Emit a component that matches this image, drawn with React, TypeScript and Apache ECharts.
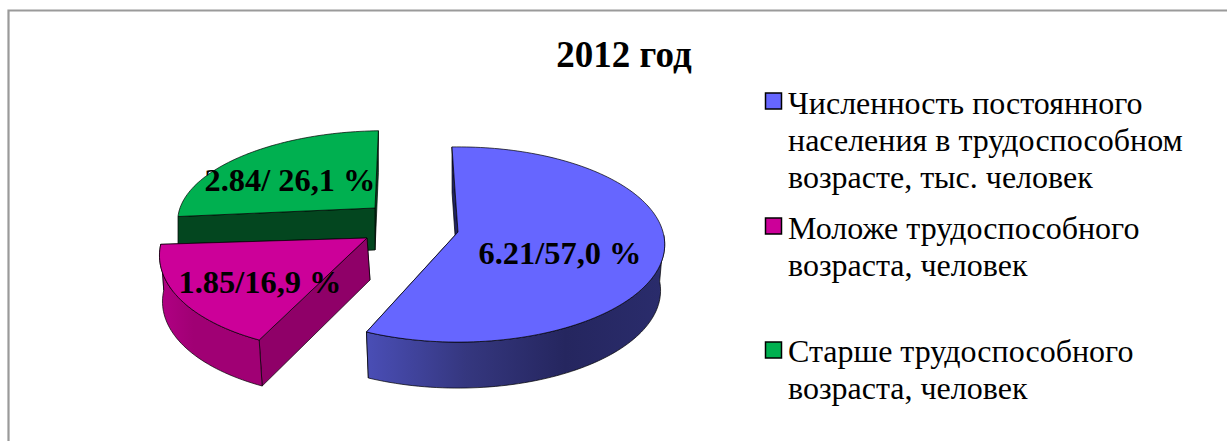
import React, { useEffect, useRef } from "react";
import * as echarts from "echarts";

const TITLE = "2012 год";
const CATEGORIES = [
  "Численность постоянного\nнаселения в трудоспособном\nвозрасте, тыс. человек",
  "Моложе трудоспособного\nвозраста, человек",
  "Старше трудоспособного\nвозраста, человек",
];
const VALUES = [6.21, 1.85, 2.84];
const PERCENTS = [57.0, 16.9, 26.1];
const DATA_LABELS = ["6.21/57,0 %", "1.85/16,9 %", "2.84/ 26,1 %"];

const START_ANGLE = -1.9;
const SERIF = '"Liberation Serif", "Times New Roman", serif';

const LOOK = [
  {
    cx: 458, cy: 232, rx: 205, ry: 96, k: 0.128, shear: 0, tilt: 0, depth: 46, hubDepth: 46, wsx: 0.98, wdx: 0, z: 2,
    face: "#6666ff", plane: "#1f2260", wall: ["#4a4eb6", "#35377f", "#25265f", "#2a2c6c"], outer: true,
    label: [560, 253], legendY: 84, markY: 93,
  },
  {
    cx: 367, cy: 238, rx: 203, ry: 99.5, k: 0.128, shear: 0.166, tilt: 0.018, depth: 46, hubDepth: 42, wsx: 1, wdx: 3, z: 3,
    face: "#cc0099", plane: "#8f0068", wall: ["#b10084", "#a00074", "#a00074", "#a00074"], outer: true,
    label: [260, 282], legendY: 209, markY: 218,
  },
  {
    cx: 375, cy: 208, rx: 195, ry: 85, k: 0.1, shear: 0.12, tilt: 0, depth: 42, hubDepth: 42, wsx: 1, wdx: 0, z: 1,
    face: "#00b050", plane: "#03461f", wall: ["#03461f", "#03461f", "#03461f", "#03461f"], outer: false,
    label: [290, 180], legendY: 332, markY: 342,
  },
];

const rad = (d: number) => (d * Math.PI) / 180;

function rimPoint(theta: number, g: any): number[] {
  const u = Math.sin(rad(theta));
  const v = Math.cos(rad(theta));
  const s = 1 / (1 + g.k * v);
  const dx = g.rx * u * s;
  const dy = -g.ry * v * s;
  return [g.cx + dx - g.shear * dy, g.cy + dy + g.tilt * dx];
}

function lower(p: number[], g: any): number[] {
  return [g.cx + (p[0] - g.cx) * g.wsx + g.wdx, p[1] + g.depth];
}

function arc(from: number, to: number, g: any): number[][] {
  const n = Math.max(2, Math.ceil(Math.abs(to - from) / 1.5));
  const pts: number[][] = [];
  for (let i = 0; i <= n; i++) pts.push(rimPoint(from + ((to - from) * i) / n, g));
  return pts;
}

const total = VALUES.reduce((a, b) => a + b, 0);

function renderSlice(params: any, api: any) {
  const i = params.dataIndex;
  const g = LOOK[i];
  const before = VALUES.slice(0, i).reduce((a, b) => a + b, 0);
  const a0 = START_ANGLE + (before / total) * 360;
  const a1 = a0 + (api.value(0) / total) * 360;
  const center = [g.cx, g.cy];
  const centerLow = [g.cx + g.wdx, g.cy + g.hubDepth];
  const line = { stroke: "#000", lineWidth: 0.7 };
  const children: any[] = [];

  [a1, a0].forEach((a, order) => {
    const p = rimPoint(a, g);
    children.push({
      type: "polygon",
      z2: g.z * 10 + order,
      shape: { points: [center, p, lower(p, g), centerLow] },
      style: { fill: g.plane, ...line },
    });
  });
  if (g.outer) {
    const w0 = Math.max(a0, 92);
    const top = arc(w0, a1, g);
    const bottom = top.map((p) => lower(p, g)).reverse();
    children.push({
      type: "polygon",
      z2: g.z * 10 + 2,
      shape: { points: [...top, ...bottom] },
      style: {
        fill: new echarts.graphic.LinearGradient(0, 0, 1, 0, g.wall.map((c: string, j: number) => ({
          offset: j / (g.wall.length - 1),
          color: c,
        }))),
        ...line,
      },
    });
  }
  children.push({
    type: "polygon",
    z2: g.z * 10 + 3,
    shape: { points: [center, ...arc(a0, a1, g)] },
    style: { fill: g.face, ...line },
  });
  children.push({
    type: "text",
    z2: 100,
    style: {
      text: DATA_LABELS[i],
      x: g.label[0],
      y: g.label[1],
      align: "center",
      verticalAlign: "middle",
      font: `bold 32.4px ${SERIF}`,
      fill: "#000",
    },
  });
  return { type: "group", children };
}

export default function App() {
  const ref = useRef<HTMLDivElement>(null);
  useEffect(() => {
    const chart = echarts.init(ref.current!, undefined, { renderer: "svg" });
    const legendParts: any[] = [];
    CATEGORIES.forEach((name, i) => {
      legendParts.push({
        type: "rect",
        shape: { x: 765.5, y: LOOK[i].markY, width: 16, height: 16 },
        style: { fill: LOOK[i].face, stroke: "#000", lineWidth: 1.5 },
      });
      legendParts.push({
        type: "text",
        style: {
          text: name,
          x: 788,
          y: LOOK[i].legendY,
          font: `32px ${SERIF}`,
          lineHeight: 37.2,
          fill: "#000",
        },
      });
    });
    chart.setOption({
      animation: false,
      backgroundColor: "#ffffff",
      title: {
        text: TITLE,
        left: 619,
        top: 31,
        textAlign: "center",
        textStyle: { fontFamily: SERIF, fontWeight: "bold", fontSize: 37, color: "#000" },
      },
      tooltip: { show: false },
      graphic: [
        {
          type: "polyline",
          shape: { points: [[8.5, 441], [8.5, 10.5], [1227, 10.5]] },
          style: { stroke: "#9a9a9a", lineWidth: 2.2, fill: "none" },
        },
        ...legendParts,
      ],
      series: [
        {
          type: "custom",
          coordinateSystem: "none",
          data: VALUES.map((v, i) => ({ name: CATEGORIES[i], value: [v, PERCENTS[i]] })),
          renderItem: renderSlice,
          silent: true,
        },
      ],
    });
    return () => chart.dispose();
  }, []);
  return <div ref={ref} style={{ position: "absolute", left: 0, top: 0, width: 1227, height: 441 }} />;
}
